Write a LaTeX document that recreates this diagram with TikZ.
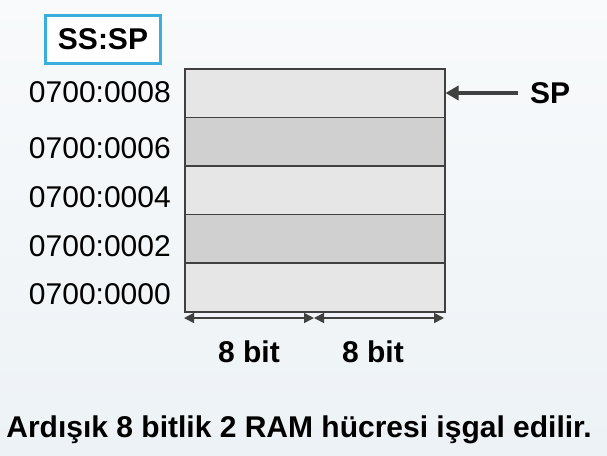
\documentclass[tikz,border=0pt]{standalone}
\usepackage{fontspec}
\setmainfont{Liberation Sans}
\usetikzlibrary{arrows.meta}
\definecolor{cellA}{HTML}{E6E6E6}
\definecolor{cellB}{HTML}{D0D0D0}
\definecolor{edge}{HTML}{404040}
\definecolor{boxblue}{HTML}{3AAEDD}
\definecolor{bgtop}{HTML}{F8FAFB}
\definecolor{bgbot}{HTML}{EDF2F6}
\begin{document}
\begin{tikzpicture}[x=1pt,y=-1pt,
  cell/.style={draw=edge,line width=1.5pt,minimum width=260pt,minimum height=48.6pt,inner sep=0pt,anchor=north west},
  addr/.style={anchor=east,inner sep=0pt,font=\fontsize{30}{34}\selectfont},
  boldtxt/.style={inner sep=0pt,font=\fontsize{30}{34}\selectfont\bfseries},
  dim/.style={draw=edge,line width=1.6pt,{Triangle[length=10pt,width=10pt]}-{Triangle[length=10pt,width=10pt]}}]
\shade[top color=bgtop,bottom color=bgbot] (0,0) rectangle (607,455);
\useasboundingbox (0,0) rectangle (607,455);
\node[cell,fill=cellA] (c1) at (184,68) {};
\node[cell,fill=cellB] (c2) at (184,116.6) {};
\node[cell,fill=cellA] (c3) at (184,165.2) {};
\node[cell,fill=cellB] (c4) at (184,213.8) {};
\node[cell,fill=cellA] (c5) at (184,262.4) {};
\node[draw=boxblue,line width=2.5pt,fill=white,minimum width=115pt,minimum height=48pt,inner sep=0pt,font=\fontsize{30}{34}\selectfont\bfseries] (ss) at (103,39.5) {SS:SP};
\node[addr] (a8) at (171,92) {0700:0008};
\node[addr] (a6) at (171,148) {0700:0006};
\node[addr] (a4) at (171,197) {0700:0004};
\node[addr] (a2) at (171,246) {0700:0002};
\node[addr] (a0) at (171,294) {0700:0000};
\node[boldtxt,anchor=west] (sp) at (530,93) {SP};
\coordinate (spstart) at (518,93);
\draw[draw=edge,line width=4pt,-{Triangle[length=13pt,width=14pt]}] (spstart) -- (c1.east |- spstart);
\coordinate (dl) at (184,318);
\coordinate (dm) at (314,318);
\coordinate (dr) at (444,318);
\draw[dim] (dl) -- (dm);
\draw[dim] (dm) -- (dr);
\node[boldtxt] (b1) at (249,352) {8 bit};
\node[boldtxt] (b2) at (373,352) {8 bit};
\node[boldtxt] (cap) at (299,430) {Ardışık 8 bitlik 2 RAM hücresi işgal edilir.};
\end{tikzpicture}
\end{document}
